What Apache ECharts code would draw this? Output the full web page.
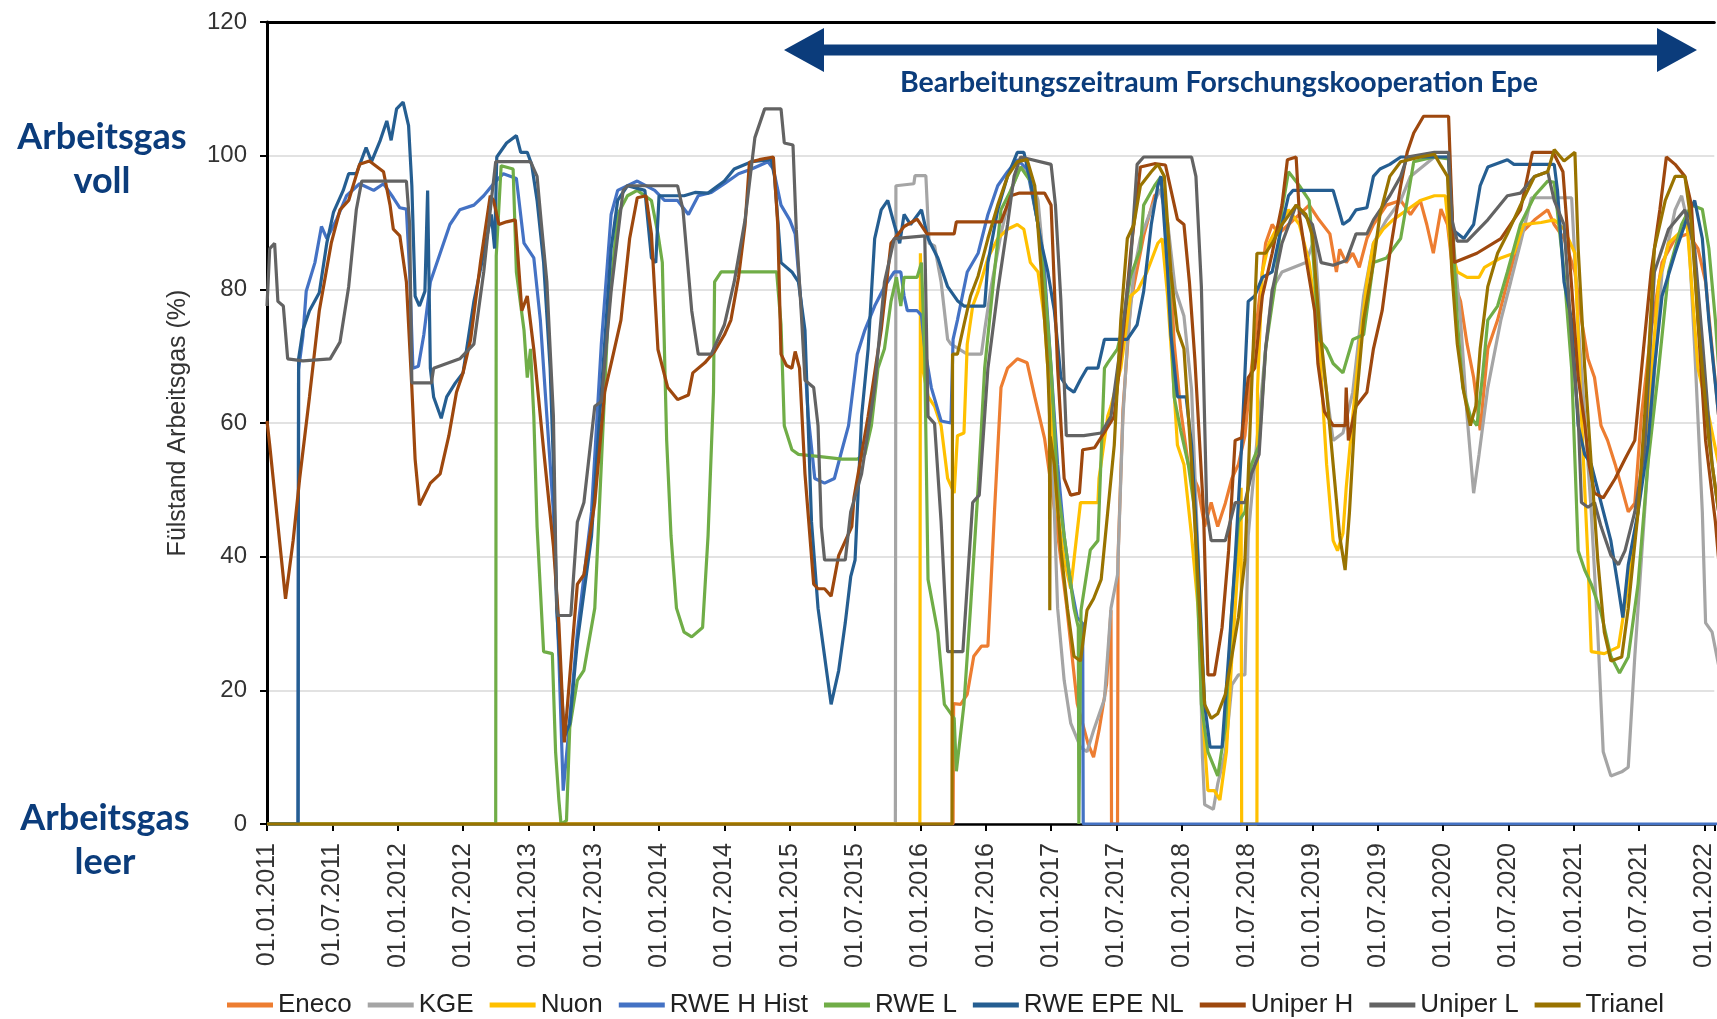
<!DOCTYPE html>
<html><head><meta charset="utf-8">
<script src="https://cdn.jsdelivr.net/npm/echarts@6/dist/echarts.min.js"></script>
<style>html,body{margin:0;padding:0;background:#fff}#c{width:1717px;height:1019px}</style>
</head><body><div id="c"></div>
<script>
// x values are months since 01.01.2011
var xTickLabels = ['01.01.2011','01.07.2011','01.01.2012','01.07.2012','01.01.2013','01.07.2013','01.01.2014','01.07.2014','01.01.2015','01.07.2015','01.01.2016','01.07.2016','01.01.2017','01.07.2017','01.01.2018','01.07.2018','01.01.2019','01.07.2019','01.01.2020','01.07.2020','01.01.2021','01.07.2021','01.01.2022'];
var yTicks = [0,20,40,60,80,100,120];
var seriesNames = ['Eneco','KGE','Nuon','RWE H Hist','RWE L','RWE EPE NL','Uniper H','Uniper L','Trianel'];

var eneco = [[0,0],[63.0,0],[63.05,18],[63.7,17.9],[64.3,19.4],[64.9,25.1],[65.6,26.6],[66.2,26.6],[66.8,46.7],[67.4,65.3],[68.0,68.2],[68.9,69.6],[69.8,69],[70.5,63.9],[71.4,57.7],[72.4,46],[73.4,33],[74.4,18],[75.4,12],[75.9,10],[76.4,14],[77.1,21],[77.5,32],[77.55,0],[78.1,0],[78.15,40],[78.6,62],[79.3,78],[80.5,88],[81.5,94],[82.2,95],[82.8,88],[83.3,72],[83.9,62],[84.6,53.8],[85.5,50.3],[86.1,44.5],[86.7,48.1],[87.3,44.5],[88.0,48],[88.6,51.7],[89.2,53.8],[89.8,58.1],[90.4,68.2],[91.1,78.2],[91.7,86.9],[92.3,89.7],[92.9,88.3],[93.8,89.7],[94.8,91.2],[95.7,92.6],[96.6,90.4],[97.6,88.3],[98.2,82.6],[98.5,86],[99.1,84],[99.7,85.4],[100.3,83.3],[101.0,87.6],[101.6,89.7],[102.8,92.6],[104.1,93.3],[105.0,91.2],[105.9,93.3],[106.5,89.7],[107.1,85.4],[107.8,92],[108.4,89.7],[109.0,81.1],[109.6,78.2],[110.2,71.8],[110.8,66.8],[111.4,58.9],[112.1,71.1],[113.0,75.4],[113.9,81.1],[115.1,88.3],[116.4,90.4],[117.6,91.9],[118.2,89.7],[119.1,87.6],[120.1,82.6],[120.7,75.4],[121.3,69.6],[121.9,66.8],[122.5,59.6],[123.1,57.4],[123.8,53.8],[124.4,50.3],[125.0,46.7],[125.6,48],[126.2,61],[127.1,73.9],[128.1,84],[129.3,87.6],[130.5,88.3],[131.4,86.1],[132.1,81.1],[132.7,71.1],[133.3,61]];

var kge = [[0,0],[57.7,0],[57.75,95.5],[59.4,95.8],[59.5,97],[60.5,97],[60.8,86.9],[61.3,86.5],[61.9,81.1],[62.5,72.5],[62.8,71.8],[64.3,70.3],[65.6,70.3],[65.9,73.9],[66.5,80.4],[67.4,88.3],[68.3,94.8],[69.2,98.3],[70.1,96.9],[70.8,93.3],[71.4,82.6],[72.0,61],[72.6,32.3],[73.2,21.5],[73.8,15.1],[74.7,11.5],[75.3,10.8],[75.9,14],[76.9,18.7],[77.5,32.3],[78.1,37.3],[78.6,61],[79.0,71.8],[79.6,82.6],[80.2,87.6],[81.2,92],[82.0,95],[82.7,90],[83.4,80],[84.2,76],[84.9,65],[85.5,40],[85.9,10],[86.1,2.9],[86.9,2.2],[87.3,6],[88.0,10.8],[88.6,20.8],[89.2,22.3],[89.8,22.3],[90.1,43.1],[90.7,53.8],[91.7,71.1],[92.3,80],[93.2,82.6],[95.4,84],[96.2,87.6],[97.0,68.2],[97.9,57.4],[98.8,58.5],[99.7,64.6],[100.7,79],[101.6,86.9],[102.8,90.4],[104.1,93.3],[105.0,96.9],[107.2,99.8],[108.5,99.8],[109.0,86.1],[109.6,75.4],[110.2,61],[110.8,49.5],[111.3,55.3],[112.1,65.3],[113.3,75.4],[114.2,81.1],[115.1,86.9],[116.1,93.7],[119.8,93.7],[120.4,75],[121.0,61],[121.6,46.7],[122.2,28.7],[122.7,10.8],[123.4,7.2],[124.4,7.8],[125.0,8.5],[125.6,25.1],[126.2,39.5],[127.1,61],[128.1,82.6],[129.3,91.9],[129.9,94],[130.5,89.7],[131.1,71.1],[131.8,46.7],[132.1,30.1],[132.7,28.7],[133.3,23.7]];

var nuon = [[0,0],[59.95,0],[60.0,85.4],[60.2,68.2],[60.7,64],[61.3,62.5],[61.9,59.6],[62.5,51.7],[63.1,49.5],[63.4,58.1],[64.0,58.5],[64.3,71.8],[64.8,77.5],[65.3,79.7],[66.2,84.7],[67.1,87.6],[68.0,89],[68.9,89.7],[69.5,89],[70.1,84],[70.8,82.6],[71.4,75.4],[72.0,61],[72.6,46.7],[73.2,39.5],[73.8,35.2],[74.1,39.5],[74.7,48.1],[76.3,48.1],[76.4,51.7],[77.2,61],[77.5,62.5],[78.4,68.2],[79.3,79],[80.0,80],[80.8,82.6],[81.8,86.9],[82.2,87.6],[82.7,79],[83.3,64.6],[83.6,56.7],[84.2,53.8],[84.9,43.1],[85.5,32.3],[86.0,14.4],[86.4,5],[87.0,5],[87.5,3.6],[88.1,10.8],[88.6,25],[89.2,39.5],[89.45,50.3],[89.5,0],[90.9,0],[90.95,65],[91.4,82.6],[92.0,86.9],[92.9,89.7],[93.8,91.9],[94.8,89.7],[95.7,84],[96.6,72.5],[97.3,53.8],[97.9,42.4],[98.3,40.9],[98.8,43.5],[99.1,50.3],[99.7,61],[100.3,71.1],[101.0,81.1],[101.6,86.9],[102.5,89],[103.4,90.4],[104.7,91.9],[105.9,93.3],[107.2,94],[108.2,94],[108.7,86.1],[109.3,82.6],[110.2,81.8],[111.3,81.8],[111.8,83.3],[113.3,84.7],[114.5,85.4],[115.4,89.7],[117.0,90],[118.2,90.4],[119.1,89],[120.1,85.4],[120.7,61],[121.3,39.5],[121.6,25.8],[122.8,25.5],[124.1,26.5],[125.0,35.9],[125.9,46.7],[126.8,61],[127.8,81.1],[128.7,86.9],[129.6,88.3],[130.4,89.7],[130.8,81.1],[131.4,68.2],[132.4,61],[133.3,53.8]];

var rweHHist = [[0,0],[2.85,0],[2.9,68],[3.3,73],[3.6,79.7],[4.4,84],[5.0,89.4],[5.5,87.6],[6.4,90.5],[7.3,94],[8.5,95.8],[9.8,94.8],[10.7,95.8],[11.6,93.7],[12.2,92.2],[12.8,92],[13.1,82.6],[13.4,68.2],[13.9,68.5],[14.4,73.2],[15.0,81.1],[15.9,85.4],[16.8,89.7],[17.7,91.9],[19.0,92.6],[19.9,94],[20.8,95.8],[21.7,97.3],[22.9,96.6],[23.6,86.9],[24.5,84.7],[25.1,75.4],[25.7,61],[26.3,46.7],[26.8,25.1],[27.2,5],[27.6,12],[28.5,28.7],[29.8,46.7],[30.7,71.8],[31.6,91.2],[32.2,94.8],[34.0,96.2],[35.6,94.8],[36.5,93.3],[37.7,93.3],[38.7,91.2],[39.6,94],[40.8,94.5],[42.0,95.8],[43.3,97.3],[44.5,98],[46.0,99.1],[46.5,98],[47.2,92.6],[48.0,90.4],[48.5,88.3],[49.1,76.8],[49.7,61],[50.3,51.7],[51.2,51],[52.1,51.7],[52.8,56],[53.4,59.6],[54.2,70.3],[54.9,73.9],[55.8,77.5],[56.7,80.4],[57.6,82.6],[58.2,82.6],[58.5,79],[58.8,76.8],[59.7,76.8],[60.1,76.1],[60.4,71.1],[61.0,65.3],[61.9,60.3],[62.8,60],[63.0,72.5],[63.4,75.4],[64.3,82.6],[65.3,85.4],[66.2,91.2],[67.1,95.5],[68.0,97.6],[68.9,99.4],[69.8,98],[70.8,89.7],[71.4,82.6],[72.0,68.2],[72.6,53.8],[73.2,43.1],[73.8,35.9],[74.4,30.9],[74.9,30],[74.95,0],[133.3,0]];

var rweL = [[0,0],[21.0,0],[21.05,85],[21.5,98.5],[22.6,98],[22.9,82.6],[23.6,73.9],[23.9,66.8],[24.2,71.1],[24.5,61],[24.8,44.5],[25.4,25.8],[26.2,25.5],[26.5,10.8],[26.8,3.6],[27.0,0],[27.5,0.5],[27.8,14.4],[28.5,21.5],[29.1,23],[30.1,32.3],[30.7,53.8],[31.3,75.4],[32.2,91.2],[33.1,94],[34.0,94.8],[35.3,93.3],[35.9,88.3],[36.3,84],[36.7,57.4],[37.1,43.1],[37.6,32.3],[38.3,28.7],[39.0,28],[40.0,29.4],[40.5,43.1],[41.0,64.6],[41.1,81.1],[41.7,82.6],[46.8,82.6],[47.2,74.7],[47.5,59.6],[48.2,56],[48.8,55.3],[50.6,55],[52.8,54.6],[54.2,54.6],[54.9,55.3],[55.5,59.6],[56.1,68.2],[56.7,71.1],[57.3,78.2],[57.8,81.8],[58.2,77.5],[58.5,81.8],[59.7,81.8],[60.1,84],[60.4,69.6],[60.7,36.6],[61.6,28.7],[62.2,17.9],[63.1,15.8],[63.3,7.9],[64.0,17.9],[64.6,32.3],[65.3,50.3],[65.9,68.2],[66.8,82.6],[67.4,91.9],[68.3,94.8],[69.2,98.3],[70.1,96.2],[70.8,89.7],[71.4,81.1],[72.0,68.2],[72.6,50.3],[73.2,43.1],[74.1,32.3],[74.5,29.4],[74.55,0],[74.7,0],[74.75,32],[75.6,41],[76.3,42.4],[76.9,68.2],[77.2,69],[78.1,71.1],[78.7,75.4],[79.3,82],[80.2,86],[80.5,92.6],[81.5,95.5],[82.1,96.9],[82.7,86.1],[83.3,63.9],[83.9,58.9],[84.6,53.8],[85.2,46.7],[85.8,17.9],[86.4,10.8],[87.3,7.2],[88.0,14.4],[88.6,32.3],[89.2,45.2],[89.8,46.7],[90.4,53.8],[91.1,56.7],[91.7,71.1],[92.6,81.1],[93.2,91.9],[93.8,97.6],[94.8,95.5],[95.7,93.3],[96.6,72.5],[97.3,71.1],[97.9,68.9],[98.8,67.5],[99.7,72.5],[100.7,73.2],[101.6,84],[102.8,84.7],[104.1,87.6],[104.7,93.3],[105.3,99.1],[107.2,99.8],[108.5,99.5],[108.7,94.8],[109.3,75.4],[109.8,65.3],[110.5,61],[111.1,59.6],[111.6,66.8],[112.1,75.4],[113.0,77.5],[113.9,82.6],[115.1,89.7],[116.4,94],[117.6,96.2],[118.2,96],[119.1,82.6],[119.8,68.2],[120.4,40.9],[121.0,38],[121.6,35.9],[122.5,31.6],[123.4,25.1],[124.2,22.6],[125.0,25],[125.9,35.9],[126.8,53.8],[127.8,68.2],[128.7,82.6],[129.9,89.7],[130.8,92.6],[131.8,92],[132.4,86.1],[133.0,75.4],[133.3,68.2]];

var rweEpeNl = [[0,0],[2.85,0],[2.9,69.6],[3.3,73.9],[3.9,76.8],[4.8,79.5],[5.5,87],[6.1,91.5],[7.0,94.8],[7.5,97.3],[8.2,97.3],[9.1,101.2],[9.6,99.1],[10.4,102.3],[11.0,105.2],[11.4,102.3],[11.9,107],[12.5,108],[13.0,104.5],[13.3,95.5],[13.6,79],[14.0,77.5],[14.5,79.7],[14.75,94.8],[15.0,68.2],[15.3,63.9],[16.0,60.7],[16.5,63.9],[17.3,66],[18.0,67.5],[19.0,78.2],[19.9,85.4],[20.6,91.2],[20.9,86.1],[21.1,99.8],[22.0,101.9],[22.9,103],[23.3,100.5],[23.9,100.5],[24.3,98.7],[24.8,93.3],[25.4,84],[26.0,68.2],[26.3,53.8],[26.6,32.3],[27.3,13],[27.8,15],[28.5,27.3],[29.8,43.1],[30.7,64.6],[31.6,86.1],[32.2,93.3],[33.1,95.5],[34.7,94.8],[35.3,84.7],[35.7,84],[36.0,94],[38.3,94],[39.3,94.5],[40.5,94.4],[42.0,96.2],[42.9,98],[44.5,99.1],[46.3,99.4],[46.6,96.9],[47.2,84],[48.2,82.6],[48.8,81.1],[49.4,73.9],[50.0,45.2],[50.6,32.3],[51.2,25.1],[51.8,17.9],[52.5,23],[53.1,30.1],[53.6,37],[54.0,39.5],[54.6,61],[55.2,71.1],[55.8,87.6],[56.4,91.9],[57.0,93.3],[57.6,89.7],[58.1,86.9],[58.5,91.2],[59.1,89.7],[60.1,91.9],[60.7,87.6],[61.6,84.7],[62.5,80.4],[63.4,78.3],[64.0,77.5],[65.9,77.5],[66.2,84],[67.1,91.9],[68.0,96.9],[68.9,100.5],[69.5,100.5],[70.1,96.2],[71.1,86.9],[71.7,82.6],[72.3,76.8],[72.9,66.8],[73.5,65.3],[74.1,64.6],[74.7,66.5],[75.3,68.2],[76.3,68.2],[76.9,72.5],[79.0,72.5],[79.9,74.7],[80.5,79.7],[81.2,89.7],[81.8,95.5],[82.1,96.9],[82.7,82.6],[83.0,73.2],[83.6,63.9],[84.4,63.9],[84.9,56.7],[85.5,39.5],[86.1,17.9],[86.6,11.5],[87.7,11.5],[88.3,25.1],[88.9,39.5],[89.5,56.7],[90.1,78.2],[90.7,79],[91.4,81.8],[92.3,82.6],[93.2,89.7],[93.8,94],[94.2,94.8],[97.9,94.8],[98.8,89.7],[99.4,90.4],[100.0,91.9],[101.0,92.2],[101.6,96.9],[102.2,98],[103.1,98.7],[104.1,99.8],[107.2,99.8],[108.5,99.8],[108.8,89],[109.9,87.6],[110.8,89.7],[111.4,95.5],[112.1,98.3],[113.9,99.4],[114.5,98.7],[118.2,98.7],[118.5,94.8],[119.1,81.1],[119.8,75.4],[120.4,59.6],[121.0,55.3],[121.6,53.8],[122.5,48.1],[123.4,42.4],[124.1,35.2],[124.5,30.9],[125.0,38.8],[125.9,46.7],[126.8,56.7],[127.4,68.2],[128.1,79],[129.3,85.4],[130.5,91.2],[131.1,93.3],[131.8,87.6],[132.4,75.4],[133.3,61]];

var uniperH = [[0,60.3],[0.25,56.7],[1.7,33.7],[2.4,42.4],[3.0,51.7],[3.9,63.9],[4.8,76.8],[5.9,86.9],[6.7,91.9],[7.5,93.3],[8.5,98.7],[9.4,99.2],[10.7,97.6],[11.3,92.6],[11.6,89],[12.2,88],[12.8,81.1],[13.3,65.3],[13.6,54.6],[14.0,47.7],[15.0,51],[15.9,52.4],[16.7,58.1],[17.4,64.6],[18.0,67.5],[18.7,72.5],[19.6,84],[20.5,94],[20.8,93.3],[21.3,89.7],[22.0,90.1],[22.8,90.4],[23.4,76.8],[23.9,79],[24.5,71],[25.4,56],[26.3,41.6],[26.8,30],[27.3,12.2],[27.6,18],[28.5,35.9],[29.1,37.3],[30.1,48.1],[31.0,64.6],[31.7,69.6],[32.5,75.4],[33.3,87.6],[34.0,93.7],[34.8,94],[35.3,88.3],[35.9,71],[36.8,65.3],[37.7,63.5],[38.7,64.2],[39.1,67.5],[40.2,69],[41.1,70.7],[42.0,73.2],[42.6,75.4],[43.3,81.8],[43.9,89.7],[44.3,99],[45.2,99.4],[46.5,99.8],[46.9,89.7],[47.2,70.3],[47.7,68.6],[48.2,68.2],[48.5,70.7],[48.9,68.2],[49.4,52.4],[50.2,35.9],[50.6,35.2],[51.2,35.2],[51.8,34.1],[52.5,40.2],[53.7,44.5],[53.9,48.8],[55.2,61],[56.4,73.9],[57.3,86.9],[58.5,89.4],[59.7,90.5],[60.6,88.3],[63.1,88.3],[63.3,90.1],[67.4,90.1],[68.3,94],[69.1,94.4],[71.4,94.4],[72.0,92.6],[72.6,68.2],[73.2,51.7],[73.8,49.2],[74.6,49.5],[74.9,56],[76.0,56.3],[76.7,58.1],[77.8,61],[78.7,74.7],[79.3,85.4],[80.2,98.3],[81.5,98.8],[82.5,98.6],[83.6,90.5],[84.2,89.7],[84.7,81.1],[85.2,69.6],[85.5,61],[86.0,46.7],[86.4,22.3],[87.0,22.3],[87.7,29.4],[88.3,40.9],[88.9,57.4],[89.5,57.8],[90.1,66.8],[90.7,68.2],[91.4,79],[92.3,85.4],[93.2,92.6],[93.7,99.4],[94.5,99.8],[94.8,91.2],[95.4,84.7],[96.2,76.8],[96.5,68.9],[97.1,61.7],[97.9,59.6],[99.0,59.6],[99.1,65.3],[99.3,57.4],[100.0,62.5],[101.0,64.6],[101.6,71.1],[102.4,76.8],[103.1,85.4],[104.1,95.5],[104.7,100.5],[105.3,103.4],[106.2,105.9],[108.5,105.9],[108.7,96.9],[109.0,84],[111.1,85.4],[113.3,87.6],[115.1,91.9],[115.8,97.3],[116.2,100.5],[118.1,100.5],[119.0,97.6],[119.8,80.4],[120.4,66.8],[121.0,59.9],[121.4,53.8],[121.9,49.5],[122.7,48.8],[123.8,51.7],[124.7,54.6],[125.6,57.4],[126.4,71.1],[127.1,82.6],[127.9,91.9],[128.5,99.8],[129.3,98.7],[130.2,96.9],[130.8,92.6],[131.4,75.4],[132.1,57.4],[133.0,45.2],[133.3,39.5]];

var uniperL = [[0,77.5],[0.25,86.1],[0.7,86.9],[1.0,78.2],[1.5,77.5],[1.9,69.6],[3.3,69.3],[5.8,69.6],[6.7,72.1],[7.5,80.4],[8.2,91.9],[8.7,96.2],[12.8,96.2],[13.1,89.7],[13.3,66],[15.1,66],[15.3,68.2],[17.7,69.6],[19.0,71.8],[19.9,82.6],[20.6,93.3],[21.0,99.1],[24.2,99.1],[24.8,96.9],[25.2,89.7],[25.7,81.1],[26.3,61],[26.6,32.3],[26.7,31.2],[27.9,31.2],[28.5,45.2],[29.1,48.1],[30.1,62.5],[30.7,63.2],[31.6,79.7],[32.7,94.8],[33.1,95.5],[37.7,95.5],[38.2,91.9],[39.0,76.8],[39.6,70.3],[40.8,70.3],[42.0,74.7],[42.9,81.1],[43.9,90.4],[44.8,102.7],[45.7,107],[47.2,107],[47.5,101.9],[48.3,101.6],[48.6,89],[49.1,75.4],[49.4,66.4],[50.2,65.3],[50.6,59.6],[50.9,44.5],[51.2,39.5],[53.1,39.5],[53.6,46.7],[54.6,52.4],[55.8,65.3],[56.7,81.1],[57.6,87.6],[60.4,88],[60.7,61],[61.3,59.9],[61.9,45.2],[62.5,25.8],[63.9,25.8],[64.8,48.1],[65.4,49.2],[66.2,68.2],[67.1,79.7],[68.0,89.7],[68.6,96.9],[69.2,99.8],[72.0,98.7],[72.4,92.6],[72.9,78.3],[73.4,58.1],[75.0,58.1],[76.6,58.5],[77.5,61],[78.4,71.8],[79.3,84],[79.9,98.7],[80.5,99.8],[84.9,99.8],[85.3,96.9],[85.8,80.4],[86.3,46.7],[86.7,42.4],[88.0,42.4],[88.9,48.1],[89.8,48.1],[90.4,52.4],[91.1,55.3],[91.7,71.1],[92.3,79.7],[93.2,86.9],[94.5,92.6],[96.0,89.7],[96.8,84],[97.9,83.6],[99.1,84.3],[100.0,88.3],[101.0,88.3],[101.6,90.4],[103.1,94],[104.1,96.9],[104.7,99.8],[107.2,100.5],[108.5,100.5],[108.8,90.4],[109.3,87.2],[110.2,87.2],[112.1,90.4],[113.9,94],[115.1,94.4],[116.4,96.9],[117.6,97.6],[118.2,93.3],[119.1,89.7],[119.8,72.5],[120.4,61],[120.7,48.1],[121.3,47.4],[121.9,48.1],[122.5,44.5],[123.4,40.2],[124.1,38.8],[124.7,40.9],[125.6,46.7],[126.5,56],[127.4,82.6],[128.7,89],[130.2,91.9],[131.1,86.1],[131.8,72.5],[132.7,53.8],[133.3,46.7]];

var trianel = [[0,0],[62.9,0],[62.95,70.3],[63.4,70.3],[64.0,74.7],[64.6,79],[65.3,82],[66.2,87.6],[67.1,92.6],[68.0,96.9],[68.9,99.1],[69.8,99.4],[70.5,95.5],[71.1,82.6],[71.7,68.2],[71.85,61],[71.88,32],[71.92,58],[72.3,53.8],[72.9,41],[73.5,32.3],[74.1,25.1],[74.7,24.4],[75.3,32],[75.9,33.7],[76.6,36.6],[77.2,46.7],[77.8,56.7],[78.4,75.4],[79.0,87.6],[79.6,89.7],[80.2,95.5],[81.2,97.6],[81.8,98.7],[82.4,96.9],[83.0,82.6],[83.6,73.9],[84.2,71.1],[84.9,53.8],[85.5,35.9],[86.1,17.9],[86.7,15.8],[87.3,16.5],[88.0,19.4],[88.6,25.1],[89.2,30.9],[89.8,39.5],[90.4,64.6],[90.9,85.4],[91.7,85.4],[92.3,86.9],[93.2,89.7],[94.5,92.6],[95.4,91.2],[96.0,88],[96.6,75.4],[97.3,64.6],[97.9,53.8],[98.5,43.1],[99.0,38],[99.4,46.7],[99.9,61],[100.7,75.4],[101.6,84],[102.2,91.2],[103.1,96.9],[104.1,99.1],[105.9,99.8],[107.2,100.2],[107.8,98.5],[108.4,96.9],[108.8,82.6],[109.3,71.8],[109.9,64.6],[110.5,59.6],[111.0,62.5],[111.4,71.1],[112.1,80.4],[113.0,85.4],[113.9,88.3],[115.1,92.6],[116.4,96.9],[117.6,97.6],[118.2,100.9],[119.1,99.2],[120.1,100.5],[120.4,86.1],[121.0,68.2],[121.6,53.8],[122.2,39.5],[122.8,28.7],[123.4,24.4],[124.4,25],[125.0,32.3],[125.9,46.7],[126.8,68.2],[127.4,86.1],[128.4,93.3],[129.3,96.9],[130.2,96.9],[130.8,89.7],[131.4,75.4],[132.4,57.4],[133.3,46.7]];

var seriesData = [eneco, kge, nuon, rweHHist, rweL, rweEpeNl, uniperH, uniperL, trianel];
var colors = ['#ED7D31','#A5A5A5','#FFC000','#4472C4','#70AD47','#255E91','#9E480E','#636363','#997300'];

var navy = '#0b3c7b';
var FONT = 'Liberation Sans, Arial, sans-serif';
var chart = echarts.init(document.getElementById('c'), null, {renderer:'canvas'});

var series = seriesNames.map(function(n,i){
  return {name:n, type:'line', data:seriesData[i], showSymbol:false, symbol:'none',
    lineStyle:{width:3.2, color:colors[i]}, itemStyle:{color:colors[i]}, clip:true, z:2+i};
});

chart.setOption({
  animation:false,
  backgroundColor:'#fff',
  color:colors,
  grid:{left:267, right:0, top:22, bottom:195, containLabel:false},
  legend:{data:seriesNames, left:227, top:990, icon:'rect', itemWidth:46, itemHeight:5, itemGap:16,
    textStyle:{fontFamily:FONT, fontSize:26, color:'#222', lineHeight:30}, padding:0},
  xAxis:[{type:'value', min:0, max:132.9, interval:6,
    axisLine:{show:true, lineStyle:{color:'#000', width:2.5}},
    axisTick:{show:true, length:7, lineStyle:{color:'#000', width:2}},
    splitLine:{show:false},
    axisLabel:{rotate:90, margin:19, fontFamily:FONT, fontSize:25, color:'#333',
      formatter:function(v){var k=Math.round(v/6); return Math.abs(v-k*6)<1e-6 && xTickLabels[k] ? xTickLabels[k] : '';}}
  },{type:'value', position:'top', min:0, max:132.9,
    axisLine:{show:true, lineStyle:{color:'#000', width:3}}, axisTick:{show:false}, axisLabel:{show:false}, splitLine:{show:false}}],
  yAxis:{type:'value', min:yTicks[0], max:yTicks[yTicks.length-1], interval:20,
    axisLine:{show:true, lineStyle:{color:'#000', width:3}},
    axisTick:{show:true, length:7, lineStyle:{color:'#000', width:2}},
    splitLine:{show:true, lineStyle:{color:'#d9d9d9', width:1.5}},
    axisLabel:{margin:20, fontFamily:FONT, fontSize:24, color:'#333'}},
  series:series,
  graphic:[
    {type:'text', x:178, y:423, rotation:Math.PI/2,
      style:{text:'Fülstand Arbeitsgas (%)', font:'25px Liberation Sans, Arial, sans-serif', fill:'#333', textAlign:'center', textVerticalAlign:'middle'}},
    {type:'text', x:102, y:159, style:{text:'Arbeitsgas\nvoll', font:'bold 36px Lato, sans-serif', lineHeight:44, fill:navy, textAlign:'center', textVerticalAlign:'middle'}},
    {type:'text', x:105, y:840, style:{text:'Arbeitsgas\nleer', font:'bold 36px Lato, sans-serif', lineHeight:44, fill:navy, textAlign:'center', textVerticalAlign:'middle'}},
    {type:'polygon', shape:{points:[[784,50],[824,28],[824,44.5],[1657,44.5],[1657,28],[1697,50],[1657,72],[1657,55.5],[824,55.5],[824,72]]}, style:{fill:navy}, z:100},
    {type:'text', x:1219, y:83, z:100, style:{text:'Bearbeitungszeitraum Forschungskooperation Epe', font:'bold 28.5px Lato, sans-serif', fill:navy, textAlign:'center', textVerticalAlign:'middle'}}
  ]
});
</script></body></html>
